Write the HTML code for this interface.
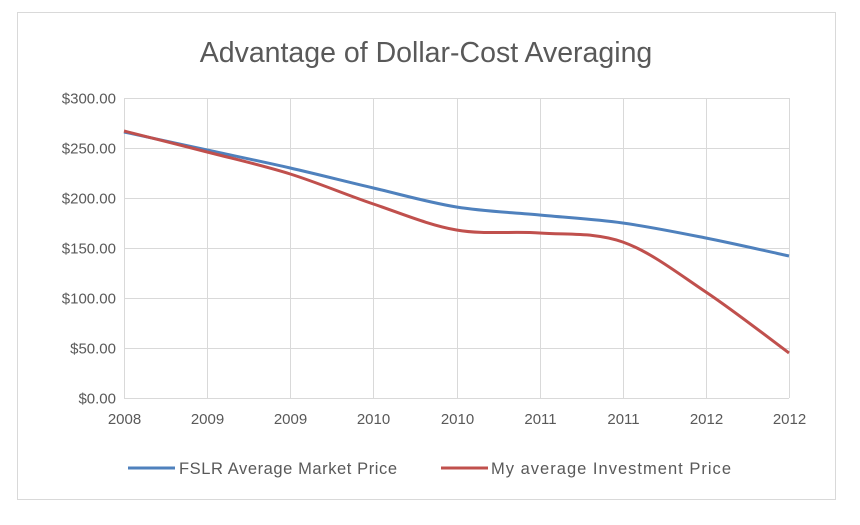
<!DOCTYPE html>
<html><head><meta charset="utf-8"><style>
body{margin:0;background:#fff;font-family:"Liberation Sans",sans-serif}
</style></head><body>
<svg width="860" height="520">
<rect x="0" y="0" width="860" height="520" fill="#fff"/>
<rect x="17.5" y="12.5" width="818" height="487" fill="#fff" stroke="#d9d9d9"/>
<text x="426" y="62" text-anchor="middle" font-size="28.5" fill="#595959">Advantage of Dollar-Cost Averaging</text>
<g id="grid"></g><g id="yt"></g><g id="xt"></g><g id="series"></g>
<g>
<line x1="128" y1="468" x2="175" y2="468" stroke="#4f81bd" stroke-width="3"/>
<text x="179" y="474" font-size="16.5" textLength="218" fill="#595959">FSLR Average Market Price</text>
<line x1="441" y1="468" x2="488" y2="468" stroke="#c0504d" stroke-width="3"/>
<text x="491" y="474" font-size="16.5" textLength="240" fill="#595959">My average Investment Price</text>
</g>
</svg>
<script>
const categories=["2008","2009","2009","2010","2010","2011","2011","2012","2012"];
const fslr=[266,248,230,210,191,183,175,160,142];
const invest=[267,246,224,194,168,165,156,106,45];
const yTicks=[0,50,100,150,200,250,300];
const X0=124,X1=789,Y0=398,Y1=98,YMAX=300;
const ns="http://www.w3.org/2000/svg";
const xs=i=>X0+(X1-X0)*i/(categories.length-1);
const ys=v=>Y0-(Y0-Y1)*v/YMAX;
function mk(t,a,p){const e=document.createElementNS(ns,t);for(const k in a)e.setAttribute(k,a[k]);p.appendChild(e);return e;}
const grid=document.getElementById('grid'),yt=document.getElementById('yt'),xt=document.getElementById('xt'),se=document.getElementById('series');
yTicks.forEach(v=>{const y=Math.round(ys(v))+0.5;
const l=mk('line',{x1:X0,x2:X1,y1:y,y2:y,stroke:'#d9d9d9'},grid);


const t=mk('text',{x:X0-8,y:y+5,'text-anchor':'end','font-size':15,fill:'#595959'},yt);t.textContent='$'+v.toFixed(2);

});
categories.forEach((c,i)=>{const x=Math.round(xs(i))+0.5;
const l=mk('line',{x1:x,x2:x,y1:Y1,y2:Y0,stroke:'#d9d9d9'},grid);


const t=mk('text',{x:x,y:Y0+26,'text-anchor':'middle','font-size':15,fill:'#595959'},xt);t.textContent=c;

});
function path(vals){const p=vals.map((v,i)=>[xs(i),ys(v)]);let d='M'+p[0][0]+','+p[0][1];
for(let i=0;i<p.length-1;i++){const a=p[Math.max(0,i-1)],b=p[i],c=p[i+1],e=p[Math.min(p.length-1,i+2)];const k=1/6;
d+=' C'+(b[0]+(c[0]-a[0])*k)+','+(b[1]+(c[1]-a[1])*k)+' '+(c[0]-(e[0]-b[0])*k)+','+(c[1]-(e[1]-b[1])*k)+' '+c[0]+','+c[1];}return d;}
const s1=mk('path',{d:path(fslr),fill:'none',stroke:'#4f81bd','stroke-width':3},se);


const s2=mk('path',{d:path(invest),fill:'none',stroke:'#c0504d','stroke-width':3},se);


</script>
</body></html>
